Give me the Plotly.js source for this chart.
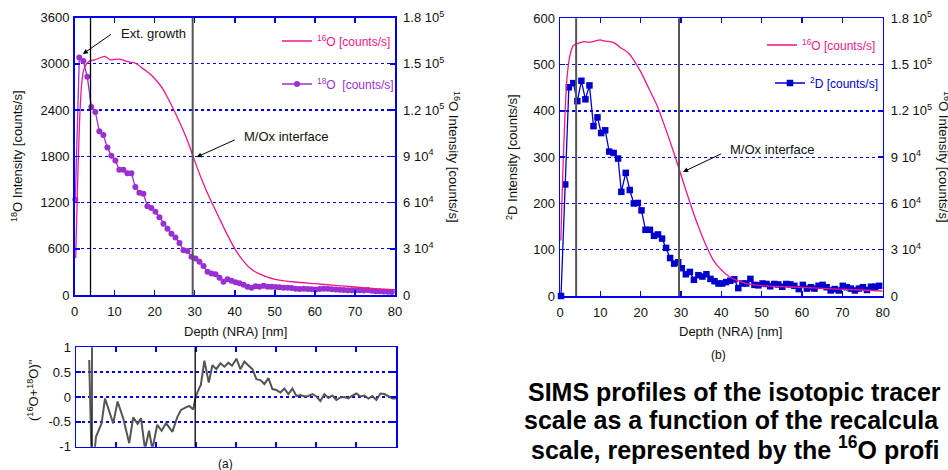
<!DOCTYPE html>
<html>
<head>
<meta charset="utf-8">
<script src="https://cdn.plot.ly/plotly-3.0.1.min.js"></script>
<style>html,body{margin:0;padding:0;background:#fff;}#chart{width:948px;height:470px;}</style>
</head>
<body>
<div id="chart"></div>
<script>
// ---------- DATA ----------
// Panel (a): 18O profile (left axis, counts/s)
const o18Depth = [0.2,1.2,2.2,3.2,4.2,5.2,6.2,7.2,8.2,9.2,10.2,11.2,12.2,13.2,14.2,15.2,16.2,17.2,18.2,19.2,20.2,21.2,22.2,23.2,24.2,25.2,26.2,27.2,28.2,29.2,30.2,31.2,32.2,33.2,34.2,35.2,36.2,37.2,38.2,39.2,40.2,41.2,42.2,43.2,44.2,45.2,46.2,47.2,48.2,49.2,50.2,51.2,52.2,53.2,54.2,55.2,56.2,57.2,58.2,59.2,60.2,61.2,62.2,63.2,64.2,65.2,66.2,67.2,68.2,69.2,70.2,71.2,72.2,73.2,74.2,75.2,76.2,77.2,78.2,79.2];
const o18Counts = [1240,3080,3035,2830,2440,2375,2125,2075,1915,1805,1745,1625,1625,1580,1580,1400,1325,1315,1150,1130,1080,1010,925,860,795,745,675,580,570,495,475,430,375,300,280,268,225,173,203,186,164,151,134,108,95,112,108,121,108,108,104,99,95,95,92,80,78,82,78,75,72,78,80,82,75,72,68,65,62,62,60,60,58,65,55,50,48,45,42,38];

// Panel (a): 16O profile (right axis, counts/s)
const o16aDepth = [0.3,0.8,1.3,1.8,2.3,3,4,5,6,7,7.5,8,9,10,11,12,13,14,15,16,17,18,19,20,22,24,26,28,30,32,34,36,38,40,42,44,46,48,50,55,60,65,70,75,80];
const o16aCounts = [24000,75000,115000,137000,146000,150000,152000,152500,153500,154500,154800,154200,152500,152800,153000,152500,151500,151000,150500,149000,147000,145200,143000,140400,133900,124200,113400,101500,87000,73300,61400,50600,39800,30100,22500,17100,13850,11700,10200,8440,7360,6270,5190,4110,3460];

// Panel (a) lower: (16O+18O)" ratio
const ratioDepth = [3.3,4.0,5.0,6.4,7.25,9.3,10.4,11.8,13.3,14.3,15.4,16.25,17.25,18.25,19.1,20.3,21.4,22.5,23.2,24.1,25.3,26.25,27.7,28.3,29.3,29.9,30.8,31.2,32.1,33.2,34.1,35.1,36.1,37.1,38.1,39.0,40.1,41.1,42.1,43.1,44.1,45.1,46.1,47.1,48.1,49.1,50.1,51.1,52.1,53.1,54.1,55.1,56.1,57.1,58.1,59.1,60.1,61.1,62.1,63.1,64.1,65.1,66.1,67.1,68.1,69.1,70.1,71.1,72.1,73.1,74.1,75.1,76.1,77.1,78.1,79.1,80];
const ratioValues = [0.745,-1.6,-0.8,-0.53,-0.03,-0.53,-0.09,-0.43,-0.93,-0.41,-0.54,-0.43,-1.05,-0.68,-1.05,-0.56,-0.68,-0.53,-0.6,-0.70,-0.41,-0.26,-0.2,-0.18,-0.25,0.0,0.18,0.24,0.73,0.29,0.64,0.56,0.68,0.61,0.69,0.63,0.77,0.56,0.71,0.64,0.56,0.36,0.34,0.26,0.38,0.16,0.14,0.09,0.17,0.06,0.17,0.02,0.04,0.01,0.02,0.06,0.01,-0.08,0.06,-0.02,0.03,-0.06,-0.01,0,-0.03,0.03,0.07,0.01,0.03,-0.03,0.02,-0.06,0.07,0.06,0.01,-0.03,-0.03];

// Panel (b): 2D profile (left axis, counts/s)
const d2Depth = [0.25,1.3,2.2,3.3,4.3,5.3,6.3,7.3,8.3,9.3,10.2,11.2,12.2,13.3,14.4,15.2,16.3,17.3,18.3,19.3,20.2,21.2,22.3,23.3,24.3,25.3,26.3,27.3,28.3,29.3,30.2,31.2,32.2,33.2,34.3,35.3,36.3,37.3,38.3,39.3,40.2,41.2,42.2,43.2,44.2,45.2,46.2,47.2,48.2,49.2,50.2,51.2,52.1,53.1,54.1,55.1,56.1,57.1,58.1,59.2,60.2,61.2,62.2,63.1,64.1,65.1,66.1,67.1,68.1,69.1,70.1,71.1,72.1,73.1,74.1,75.1,76.1,77.1,78.1,79.1];
const d2Counts = [0,241,451,460,421,465,425,455,367,386,352,358,312,309,297,225,266,229,200,201,185,143,143,130,133,124,104,82,70,73,60,47,52,35,45,42,47,37,32,27,27,30,33,36,17,27,27,37,24,23,27,26,21,26,25,20,26,25,22,15,24,16,19,16,22,24,19,12,15,12,22,19,16,12,16,19,13,20,20,22];

// Panel (b): 16O profile (right axis)
const o16bDepth = [0.2,0.7,1.2,1.7,2.2,2.7,3.2,4,5,6,7,8,9,10,11,12,13,14,15,16,17,18,20,22,24,26,28,30,32,34,36,38,40,42,44,46,50,55,60,65,70,75,80];
const o16bCounts = [36000,80000,115000,140000,152000,158500,162000,163400,164200,164900,164500,164700,165500,166000,165300,165000,164600,163100,160900,159400,157300,154100,145400,134600,123800,109800,94600,78400,62200,47100,34100,23300,16900,12500,9940,8200,6700,6050,5600,4970,4320,3890,3240];

// Ticks / labels
const xTicks = [0,10,20,30,40,50,60,70,80];
const rightTickVals = [0,30000,60000,90000,120000,150000,180000];
const rightTickText = ['0','3 10<sup>4</sup>','6 10<sup>4</sup>','9 10<sup>4</sup>','1.2 10<sup>5</sup>','1.5 10<sup>5</sup>','1.8 10<sup>5</sup>'];
const leftTicksA = [0,600,1200,1800,2400,3000,3600];
const leftTicksB = [0,100,200,300,400,500,600];
const ratioTicks = [-1,-0.5,0,0.5,1];
const ratioTickText = ['-1','-0.5','0','0.5','1'];
const markerLinesA = [4,29.5];
const markerLinesRatio = [4,29.8];
const markerLinesB = [4,29.5];

// ---------- STYLE ----------
const W = 948, H = 470;
const px = v => v / W;
const py = v => 1 - v / H;
const BLUE = '#0000ee';
const PINK = '#f2168a';
const PURPLE = '#9a30d2';
const DBLUE = '#0000cc';
const FONT = 'Arial, "Liberation Sans", sans-serif';

const baseAx = {
  showline: true, linecolor: BLUE, linewidth: 1.5,
  ticks: 'inside', tickcolor: BLUE, ticklen: 5, tickwidth: 1.5,
  tickfont: {family: FONT, size: 13, color: '#111'},
  zeroline: false, showgrid: false, fixedrange: true
};
const gridY = {showgrid: true, gridcolor: BLUE, griddash: 'dot', gridwidth: 1.3};

const traces = [
  {x: o16aDepth, y: o16aCounts, xaxis: 'x', yaxis: 'y2', type: 'scatter', mode: 'lines',
   line: {color: PINK, width: 1.3, shape: 'spline', smoothing: 0.6}, name: '<sup>16</sup>O [counts/s]', legend: 'legend'},
  {x: o18Depth, y: o18Counts, xaxis: 'x', yaxis: 'y', type: 'scatter', mode: 'lines+markers',
   line: {color: PURPLE, width: 1.3}, marker: {color: PURPLE, size: 6, symbol: 'circle'},
   name: '<sup>18</sup>O  [counts/s]', legend: 'legend2', cliponaxis: false},
  {x: ratioDepth, y: ratioValues, xaxis: 'x2', yaxis: 'y3', type: 'scatter', mode: 'lines',
   line: {color: '#555555', width: 2}, showlegend: false},
  {x: o16bDepth, y: o16bCounts, xaxis: 'x3', yaxis: 'y5', type: 'scatter', mode: 'lines',
   line: {color: PINK, width: 1.3, shape: 'spline', smoothing: 0.6}, name: '<sup>16</sup>O [counts/s]', legend: 'legend3'},
  {x: d2Depth, y: d2Counts, xaxis: 'x3', yaxis: 'y4', type: 'scatter', mode: 'lines+markers',
   line: {color: DBLUE, width: 1.3}, marker: {color: DBLUE, size: 6.5, symbol: 'square'},
   name: '<sup>2</sup>D [counts/s]', legend: 'legend4', cliponaxis: false}
];

const shapes = [];
markerLinesA.forEach((xv, i) => shapes.push({type: 'line', xref: 'x', yref: 'y domain', x0: xv, x1: xv, y0: 0, y1: 1,
  line: {color: i === 0 ? '#000' : '#555', width: i === 0 ? 1.3 : 2}}));
markerLinesRatio.forEach(xv => shapes.push({type: 'line', xref: 'x2', yref: 'y3 domain', x0: xv, x1: xv, y0: 0, y1: 1,
  line: {color: '#000', width: 1.3}}));
markerLinesB.forEach(xv => shapes.push({type: 'line', xref: 'x3', yref: 'y4 domain', x0: xv, x1: xv, y0: 0, y1: 1,
  line: {color: '#555', width: 2}}));

const tf = (size, color) => ({family: FONT, size: size, color: color || '#111'});
function lab(text, x, y, opts) {
  return Object.assign({text: text, xref: 'paper', yref: 'paper', x: px(x), y: py(y),
    xanchor: 'center', yanchor: 'middle', showarrow: false, font: tf(13)}, opts || {});
}
function arrow(xref, yref, x, y, ax, ay) {
  return {text: ' ', xref: xref, yref: yref, x: x, y: y, ax: ax, ay: ay, showarrow: true,
    arrowhead: 2, arrowsize: 1, arrowwidth: 1, arrowcolor: '#000', font: tf(2)};
}
const annotations = [
  // axis titles
  lab('<sup>18</sup>O Intensity [counts/s]', 17, 156, {textangle: -90}),
  lab('<sup>16</sup>O Intensity [counts/s]', 454, 157, {textangle: 90}),
  lab('Depth (NRA) [nm]', 235, 331),
  lab('(<sup>16</sup>O+<sup>18</sup>O)"', 33, 390, {textangle: -90}),
  lab('<sup>2</sup>D Intensity [counts/s]', 512, 157, {textangle: -90}),
  lab('<sup>16</sup>O Intensity [counts/s]', 944, 157, {textangle: 90}),
  lab('Depth (NRA) [nm]', 730, 331),
  // captions
  lab('(a)', 225, 464, {font: tf(12)}),
  lab('(b)', 718, 355, {font: tf(12)}),
  // in-plot labels
  lab('Ext. growth', 119, 33, {xanchor: 'left'}),
  arrow('x', 'y', 2.1, 3127, 30, -21),
  lab('M/Ox interface', 242, 136, {xanchor: 'left'}),
  arrow('x', 'y', 30.5, 1790, 40, -18),
  lab('M/Ox interface', 728, 149, {xanchor: 'left'}),
  arrow('x3', 'y4', 30.5, 268, 40, -19),
  // bold text block
  lab('<b>SIMS profiles of the isotopic tracer</b>', 526, 392, {xanchor: 'left', font: tf(25, '#000')}),
  lab('<b>scale as a function of the recalcula</b>', 522, 420, {xanchor: 'left', font: tf(25, '#000')}),
  lab('<b>scale, represented by the <sup>16</sup>O profi</b>', 529, 448, {xanchor: 'left', font: tf(25, '#000')})
];

const legendBase = {xanchor: 'left', yanchor: 'middle', bgcolor: 'rgba(0,0,0,0)', borderwidth: 0, itemwidth: 30, tracegroupgap: 0};

const layout = {
  width: W, height: H,
  margin: {l: 0, r: 0, t: 0, b: 0},
  paper_bgcolor: '#fff', plot_bgcolor: '#fff',
  font: {family: FONT},
  showlegend: true,
  legend: Object.assign({}, legendBase, {x: px(277), y: py(41), font: tf(12, PINK)}),
  legend2: Object.assign({}, legendBase, {x: px(277), y: py(84), font: tf(12, PURPLE)}),
  legend3: Object.assign({}, legendBase, {x: px(762), y: py(45), font: tf(12, PINK)}),
  legend4: Object.assign({}, legendBase, {x: px(770), y: py(83), font: tf(12, DBLUE)}),
  xaxis: Object.assign({}, baseAx, {domain: [px(74.5), px(395)], anchor: 'y', range: [0, 80], tickvals: xTicks, mirror: 'ticks', ticklabelstandoff: 4}),
  yaxis: Object.assign({}, baseAx, gridY, {domain: [py(295), py(17.5)], anchor: 'x', range: [0, 3600], tickvals: leftTicksA, mirror: true, ticklabelstandoff: 1}),
  yaxis2: Object.assign({}, baseAx, {overlaying: 'y', side: 'right', anchor: 'x', range: [0, 180000], tickvals: rightTickVals, ticktext: rightTickText, ticklabelstandoff: 4}),
  xaxis2: Object.assign({}, baseAx, {domain: [px(76), px(396)], anchor: 'y3', range: [0, 80], tickvals: xTicks, showticklabels: false, mirror: 'ticks'}),
  yaxis3: Object.assign({}, baseAx, gridY, {domain: [py(446.7), py(347.3)], anchor: 'x2', range: [-1, 1], tickvals: ratioTicks, ticktext: ratioTickText, mirror: 'ticks', ticklabelstandoff: 1}),
  xaxis3: Object.assign({}, baseAx, {domain: [px(560), px(882.7)], anchor: 'y4', range: [0, 80], tickvals: xTicks, mirror: 'ticks', ticklabelstandoff: 4}),
  yaxis4: Object.assign({}, baseAx, gridY, {domain: [py(296), py(18.3)], anchor: 'x3', range: [0, 600], tickvals: leftTicksB, mirror: true, ticklabelstandoff: 1}),
  yaxis5: Object.assign({}, baseAx, {overlaying: 'y4', side: 'right', anchor: 'x3', range: [0, 180000], tickvals: rightTickVals, ticktext: rightTickText, ticklabelstandoff: 4}),
  shapes: shapes,
  annotations: annotations
};

Plotly.newPlot('chart', traces, layout, {staticPlot: true, displayModeBar: false});
</script>
</body>
</html>
